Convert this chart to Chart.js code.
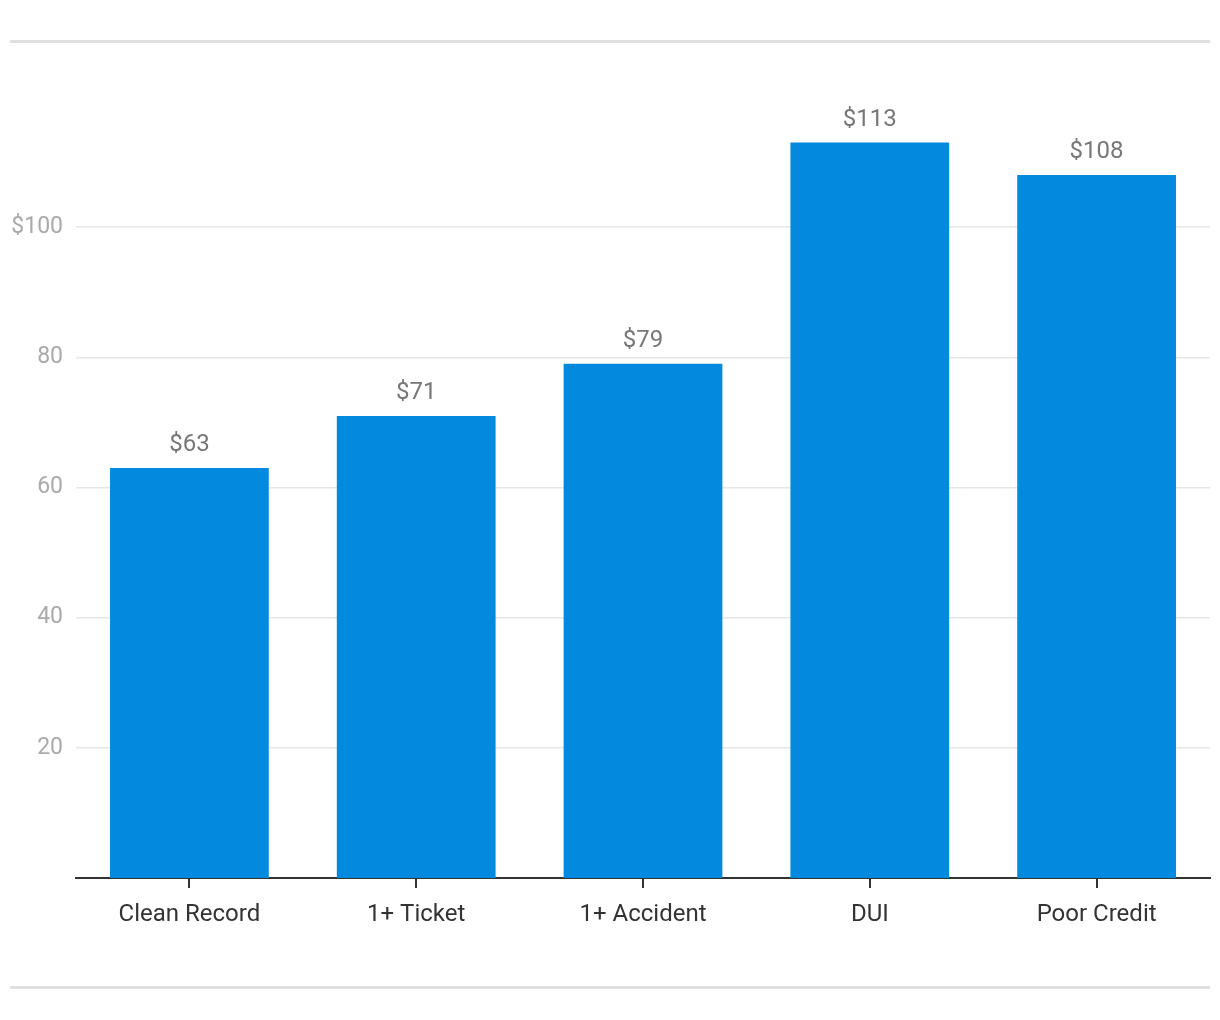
<!DOCTYPE html>
<html>
<head>
<meta charset="utf-8">
<script src="https://cdn.jsdelivr.net/npm/chart.js@4"></script>
<style>
  html, body { margin: 0; padding: 0; background: #fff; }
  #wrap { position: relative; width: 1220px; height: 1020px; }
  .rule { position: absolute; left: 10px; width: 1200px; height: 3px; background: #e0e0e0; }
  canvas { position: absolute; left: 0; top: 0; }
</style>
</head>
<body>
<div id="wrap">
  <div class="rule" style="top:40px"></div>
  <div class="rule" style="top:986px"></div>
  <canvas id="c" width="1220" height="1020"></canvas>
</div>
<script>
const categories = ["Clean Record", "1+ Ticket", "1+ Accident", "DUI", "Poor Credit"];
const premiums = [63, 71, 79, 113, 108];
const yTickValues = [20, 40, 60, 80, 100];

const FONT = "Roboto, 'Noto Sans', sans-serif";

const valueLabels = {
  id: 'valueLabels',
  afterDatasetsDraw(chart) {
    const ctx = chart.ctx;
    const meta = chart.getDatasetMeta(0);
    ctx.save();
    ctx.font = "24px " + FONT;
    ctx.fillStyle = "#777";
    ctx.textAlign = "center";
    ctx.textBaseline = "middle";
    meta.data.forEach((bar, i) => {
      ctx.fillText("$" + premiums[i], bar.x, bar.y - 23);
    });
    ctx.restore();
  }
};

new Chart(document.getElementById('c'), {
  type: 'bar',
  data: {
    labels: categories,
    datasets: [{
      data: premiums,
      backgroundColor: '#038ade',
      borderWidth: 0,
      barPercentage: 0.7,
      categoryPercentage: 1.0
    }]
  },
  options: {
    responsive: false,
    animation: false,
    devicePixelRatio: 1,
    layout: { padding: { top: 97, right: 10, bottom: 82, left: 0 } },
    plugins: { legend: { display: false }, tooltip: { enabled: false } },
    scales: {
      x: {
        offset: true,
        grid: {
          offset: false,
          drawOnChartArea: false,
          drawTicks: true,
          tickLength: 10,
          color: '#333',
          lineWidth: 2
        },
        border: { display: true, color: '#333', width: 2 },
        ticks: {
          color: '#333',
          font: { family: FONT, size: 24 },
          padding: 13,
          maxRotation: 0
        },
        afterFit(scale) { scale.height = 60; }
      },
      y: {
        min: 0,
        max: 120,
        afterBuildTicks(scale) {
          scale.ticks = yTickValues.map(v => ({ value: v }));
        },
        grid: {
          drawTicks: false,
          color: '#e6e6e6',
          lineWidth: 1.5
        },
        border: { display: false },
        ticks: {
          color: '#aaa',
          font: { family: FONT, size: 23 },
          padding: 13,
          callback: (v) => v === 100 ? '$100' : String(v)
        },
        afterFit(scale) { scale.width = 76; }
      }
    }
  },
  plugins: [valueLabels]
});
</script>
</body>
</html>
